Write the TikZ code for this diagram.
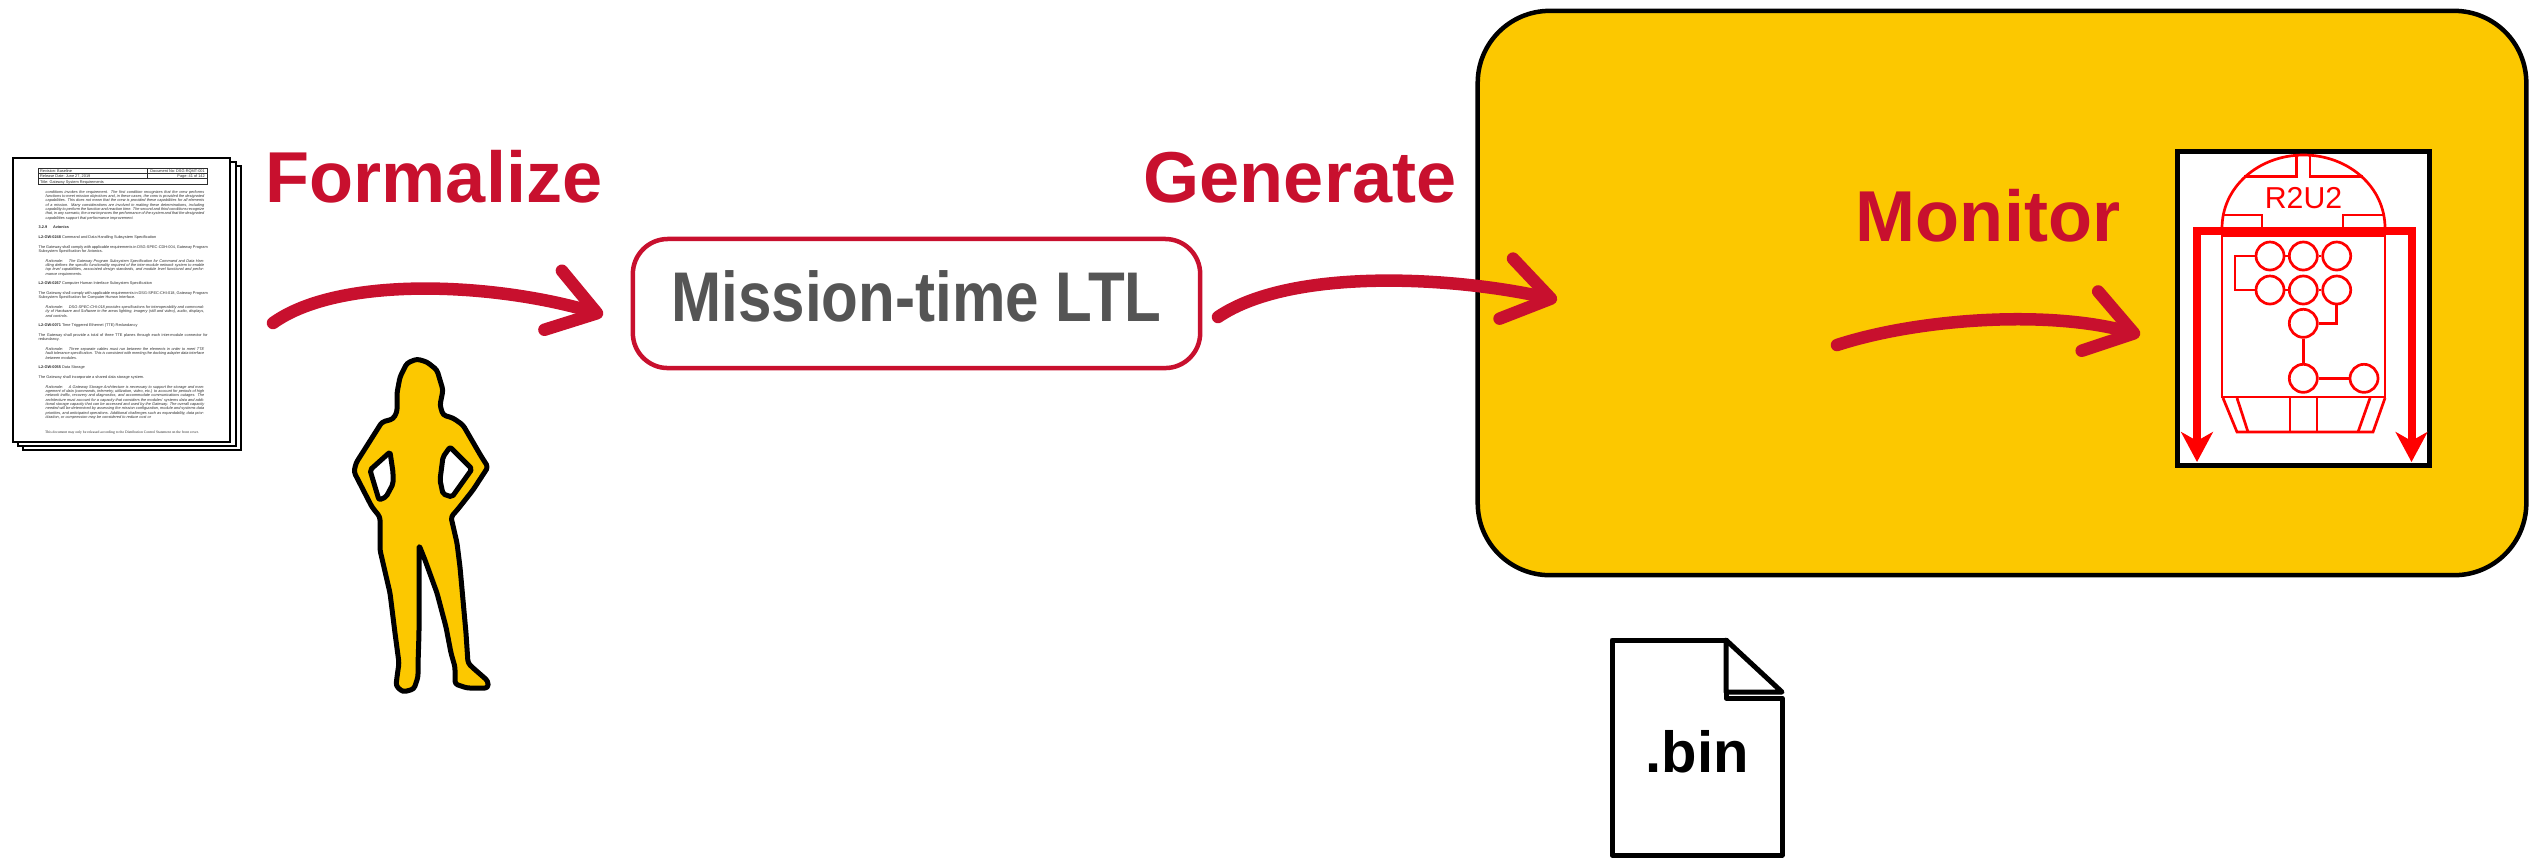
\documentclass[tikz,border=0pt]{standalone}
\usepackage{fontspec}
\usepackage{graphicx}
\setmainfont{Liberation Sans}
\newfontfamily\docserif{Liberation Serif}
\usetikzlibrary{arrows.meta}

\definecolor{nasared}{RGB}{200,16,46}
\definecolor{gold}{RGB}{252,200,0}
\definecolor{ltlgray}{RGB}{85,85,85}
\definecolor{botred}{RGB}{255,0,0}
\definecolor{docgray}{RGB}{45,45,45}

% indented italic paragraph of the requirements page
\newcommand\ratpar[1]{{\leftskip=2pt\rightskip=1pt\itshape #1\par}}

\tikzset{
  sketcharrow/.style={draw=nasared, line width=0.125cm, line cap=round,
    -{Straight Barb[length=13pt,width=17.5pt,round]}},
  steplabel/.style={text=nasared, font=\fontsize{20.5}{24}\selectfont\bfseries,
    anchor=base, inner sep=0},
  docsheet/.style={draw=black, fill=white, line width=0.025cm},
  blackline/.style={draw=black, line width=0.05cm, line join=round},
  botline/.style={draw=botred, line width=0.027cm},
  botbus/.style={draw=botred, line width=0.08cm,
    {Stealth[length=8.5pt,width=9pt,inset=2.5pt]}-{Stealth[length=8.5pt,width=9pt,inset=2.5pt]}},
  tinytext/.style={inner sep=0, text=docgray, font=\fontsize{1.1}{1.24}\selectfont},
  botcircle/.style={circle, botline, fill=white, minimum size=0.28cm, inner sep=0},
}

\begin{document}
\begin{tikzpicture}[x=0.01cm,y=-0.01cm]
\useasboundingbox (0,0) rectangle (2539,859);

% ---------- stack of requirement pages ----------
\draw[docsheet] (23,166) rectangle (241,450);
\draw[docsheet] (18,162) rectangle (236,446);
\draw[docsheet] (13,158) rectangle (230,442);

% header table
\draw[docgray, line width=0.15pt] (38,168) rectangle (207,184)
  (38,173.3) -- (207,173.3) (38,178.7) -- (207,178.7) (147,168) -- (147,178.7);
\node[tinytext, anchor=base west] (hdrA) at (39.5,172.3) {Revision:\ Baseline};
\node[tinytext, anchor=base east] (hdrB) at (205.5,172.3) {Document No:\ DSG-RQMT-001};
\node[tinytext, anchor=base west] (hdrC) at (39.5,177.6) {Release Date:\ June 27, 2019};
\node[tinytext, anchor=base east] (hdrD) at (205.5,177.6) {Page:\ 41 of 142};
\node[tinytext, anchor=base west] (hdrE) at (39.5,183.0) {Title:\ Gateway System Requirements};

% page body
\node[tinytext, anchor=north west, text width=1.69cm, align=justify] (body) at (38,189.5) {%
\setlength\parskip{1.5pt}\setlength\parindent{0pt}%
\ratpar{conditions invokes the requirement. The first condition recognizes that the crew performs functions to meet mission objectives and, in these cases, the crew is provided the designated capabilities. This does not mean that the crew is provided these capabilities for all elements of a mission. Many considerations are involved in making these determinations, including capability to perform the function and reaction time. The second and third conditions recognize that, in any scenario, the crew improves the performance of the system and that the designated capabilities support that performance improvement.}
\textbf{3.2.9\hspace{1.5em}Avionics}\par
\textbf{L2-GW-0248} Command and Data Handling Subsystem Specification\par
The Gateway shall comply with applicable requirements in DSG-SPEC-CDH-004, Gateway Program Subsystem Specification for Avionics.\par
\ratpar{Rationale:\hspace{1.5em}The Gateway Program Subsystem Specification for Command and Data Handling defines the specific functionality required of the inter-module network system to enable top level capabilities, associated design standards, and module level functional and performance requirements.}
\textbf{L2-GW-0267} Computer Human Interface Subsystem Specification\par
The Gateway shall comply with applicable requirements in DSG-SPEC-CHI-018, Gateway Program Subsystem Specification for Computer Human Interface.\par
\ratpar{Rationale:\hspace{1.5em}DSG-SPEC-CHI-018 provides specifications for interoperability and commonality of Hardware and Software in the areas lighting, imagery (still and video), audio, displays, and controls.}
\textbf{L2-GW-0071} Time Triggered Ethernet (TTE) Redundancy\par
The Gateway shall provide a total of three TTE planes through each inter-module connector for redundancy.\par
\ratpar{Rationale:\hspace{1.5em}Three separate cables must run between the elements in order to meet TTE fault tolerance specification. This is consistent with meeting the docking adapter data interface between modules.}
\textbf{L2-GW-0055} Data Storage\par
The Gateway shall incorporate a shared data storage system.\par
\ratpar{Rationale:\hspace{1.5em}A Gateway Storage Architecture is necessary to support the storage and management of data (commands, telemetry, utilization, video, etc.) to account for periods of high network traffic, recovery and diagnostics, and accommodate communications outages. The architecture must account for a capacity that considers the modules' systems data and additional storage capacity that can be accessed and used by the Gateway. The overall capacity needed will be determined by assessing the mission configuration, module and systems data priorities, and anticipated operations. Additional challenges such as expandability, data prioritization, or compression may be considered to reduce cost or}
};
\node[inner sep=0, text=docgray, font=\docserif\fontsize{1.05}{1.2}\selectfont, anchor=base] (footer) at (122,433)
  {This document may only be released according to the Distribution Control Statement on the front cover.};

% ---------- engineer silhouette ----------
\filldraw[fill=gold, blackline, rounded corners=0.03cm]
  (417,359) -- (427,362) -- (437,370) -- (443,390) -- (440,405) -- (443,415) -- (453,418)
  -- (463,425) -- (481,456) -- (488,467) -- (473,490) -- (458,509) -- (451,517) -- (457,543)
  -- (460,567) -- (463,600) -- (466,633) -- (468,663) -- (472,667) -- (488,681) -- (488,688)
  -- (467,688) -- (455,684) -- (455,667) -- (451,653) -- (446,627) -- (437,593) -- (425,560)
  -- (419,545) -- (419,633) -- (418,665) -- (418,677) -- (414,689) -- (403,692) -- (396,686)
  -- (397,677) -- (399,663) -- (395,633) -- (390,593) -- (380,550) -- (380,517) -- (372,507)
  -- (354,472) -- (356,463) -- (382,422) -- (393,419) -- (397,412) -- (397,393) -- (400,377)
  -- (407,363) -- cycle;
\filldraw[fill=white, blackline, rounded corners=0.02cm]
  (390,452) -- (393,472) -- (393,484) -- (386,497) -- (379,500) -- (370,470) -- cycle;
\filldraw[fill=white, blackline, rounded corners=0.02cm]
  (450,447) -- (472,469) -- (452,497) -- (443,494) -- (440,480) -- (443,457) -- cycle;

% ---------- specification node ----------
\node[draw=nasared, line width=0.045cm, rounded corners=0.35cm, minimum width=5.67cm,
  minimum height=1.29cm, text=ltlgray, font=\fontsize{20}{24}\selectfont\bfseries,
  text height=0.51cm, text depth=0.16cm, inner sep=0] (ltl) at (916.5,303.5)
  {\scalebox{0.855}[1]{Mission-time LTL}};

% ---------- hardware board ----------
\node[draw=black, fill=gold, line width=0.045cm, rounded corners=0.72cm, minimum width=10.48cm,
  minimum height=5.64cm, inner sep=0] (fpga) at (2002,293) {};

% ---------- monitor frame ----------
\node[draw=black, fill=white, line width=0.05cm, minimum width=2.51cm, minimum height=3.13cm,
  inner sep=0] (r2u2) at (2303.5,308.5) {};

% robot body
\draw[botline] (2222,228) .. controls (2222,187) and (2258.5,155) .. (2303.5,155)
  .. controls (2348.5,155) and (2385,187) .. (2385,228);
\draw[botline] (2296.7,155) -- (2296.7,176.7) -- (2244,176.7);
\draw[botline] (2310,155) -- (2310,176.7) -- (2363,176.7);
\draw[botline] (2222,215) -- (2262,215) -- (2262,229);
\draw[botline] (2384,215) -- (2343,215) -- (2343,229);
\draw[botline] (2222,228) rectangle (2385,397);
\draw[botline] (2222,236) -- (2385,236);
\node[text=botred, font=\fontsize{8.6}{10}\selectfont, anchor=base, inner sep=0] (botname) at (2303.5,208.3) {R2U2};
% skirt
\draw[botline] (2223,398) -- (2237,432) -- (2373,432) -- (2385,398);
\draw[botline] (2237,398) -- (2248,432);
\draw[botline] (2370,398) -- (2358,432);
\draw[botline] (2290,398) -- (2290,432);
\draw[botline] (2317,398) -- (2317,432);
% logic circuit
\node[botcircle] (c11) at (2270,256) {};
\node[botcircle] (c12) at (2303.3,256) {};
\node[botcircle] (c13) at (2336.7,256) {};
\node[botcircle] (c21) at (2270,290) {};
\node[botcircle] (c22) at (2303.3,290) {};
\node[botcircle] (c23) at (2336.7,290) {};
\node[botcircle] (c3) at (2303.3,323.3) {};
\node[botcircle] (c4) at (2303.3,378.3) {};
\node[botcircle] (c5) at (2364,378.3) {};
\draw[botline] (c11) -- (c12) -- (c13);
\draw[botline] (c21) -- (c22) -- (c23);
\draw[botline] (c11.west) -- (2235,256) -- (2235,290) -- (c21.west);
\draw[botline] (c23.south) -- (2336.7,323.3) -- (c3.east);
\draw[botline] (c3) -- (c4);
\draw[botline] (c4) -- (c5);
% data bus with outputs
\draw[botbus] (2197,462) -- (2197,231) -- (2411.5,231) -- (2411.5,462);

% ---------- binary file ----------
\draw[blackline, fill=white] (1612,855) -- (1612,640) -- (1726,640) -- (1726,698) -- (1782,698)
  -- (1782,855) -- cycle;
\draw[blackline, fill=white] (1726,640) -- (1782,692) -- (1726,692) -- cycle;
\node[font=\fontsize{16.5}{20}\selectfont\bfseries, anchor=base, inner sep=0] (binlabel) at (1697,772) {.bin};

% ---------- step labels ----------
\node[steplabel] (formalize) at (434,202) {Formalize};
\node[steplabel] (generate) at (1300,202) {Generate};
\node[steplabel] (monitor) at (1988,241) {Monitor};

% ---------- step arrows ----------
\coordinate (f0) at (273,323);
\coordinate (f1) at (603,315);
\draw[sketcharrow] (f0) .. controls (340,275) and (495,283) .. (f1);

\coordinate (g0) at (1218,317);
\coordinate (g1) at (1557,300);
\draw[sketcharrow] (g0) .. controls (1290,268) and (1450,276) .. (g1);

\coordinate (m0) at (1837,345);
\coordinate (m1) at (2140,335);
\draw[sketcharrow] (m0) .. controls (1920,318) and (2050,310) .. (m1);
\end{tikzpicture}
\end{document}
